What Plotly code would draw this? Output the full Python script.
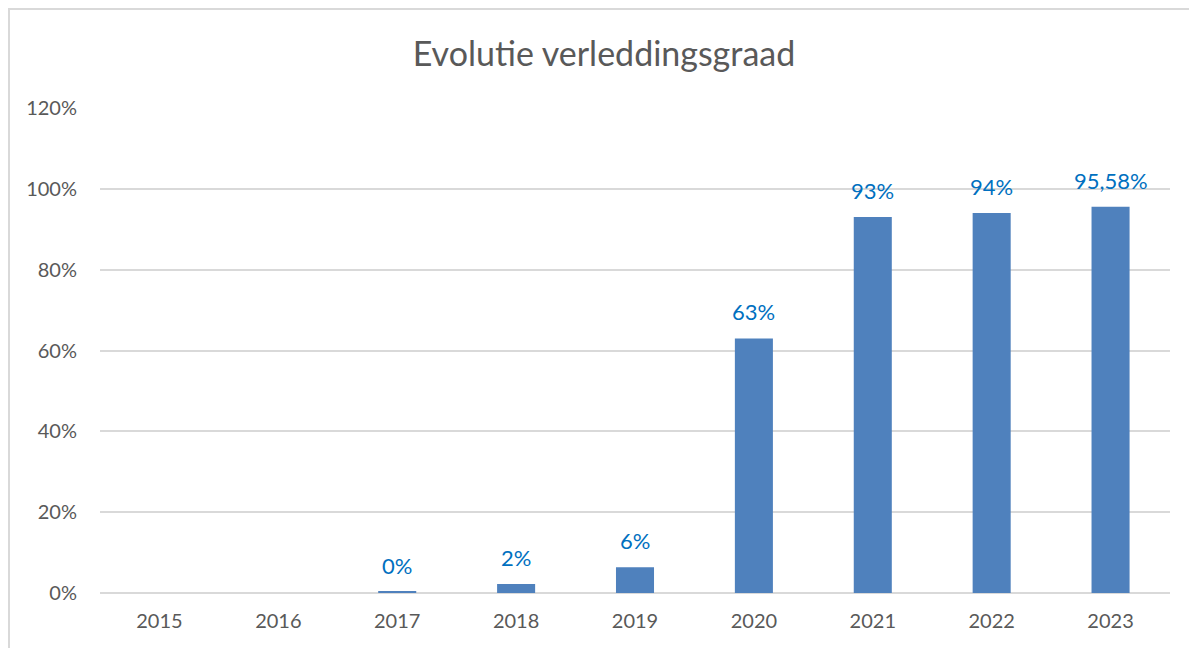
import plotly.graph_objects as go

years = ["2015", "2016", "2017", "2018", "2019", "2020", "2021", "2022", "2023"]
values = [None, None, 0.003, 0.022, 0.064, 0.63, 0.93, 0.94, 0.9558]
labels = ["", "", "0%", "2%", "6%", "63%", "93%", "94%", "95,58%"]
y_ticks = [0, 0.2, 0.4, 0.6, 0.8, 1.0, 1.2]
y_tick_labels = ["0%", "20%", "40%", "60%", "80%", "100%", "120%"]

FONT = "Lato, Carlito, Calibri, sans-serif"
GREY = "#595959"

fig = go.Figure()
fig.add_trace(go.Bar(
    x=years, y=values, marker=dict(color="#4F81BD", line=dict(width=0)),
    width=0.32, hoverinfo="x+y",
))

for i, (v, lab) in enumerate(zip(values, labels)):
    if v is None or not lab:
        continue
    fig.add_annotation(x=i, y=v, xref="x", yref="y", text=lab, showarrow=False,
                       yanchor="bottom", yshift=11,
                       font=dict(family=FONT, size=22, color="#0070C0"))

fig.update_layout(
    width=1197, height=648,
    paper_bgcolor="white", plot_bgcolor="white",
    margin=dict(l=92, r=35, t=100, b=63),
    title=dict(text="Evolutie verleddingsgraad", x=596 / 1197,
               xanchor="center", y=1 - 46 / 648, yanchor="middle",
               font=dict(family=FONT, size=34, color=GREY)),
    showlegend=False,
    xaxis=dict(type="category", categoryorder="array", categoryarray=years,
               range=[-0.5, len(years) - 0.5],
               tickfont=dict(family=FONT, size=20, color=GREY),
               showgrid=False, showline=False, ticks="", zeroline=False,
               ticklabelstandoff=14),
    yaxis=dict(range=[0, 1.2], tickvals=y_ticks, ticktext=y_tick_labels,
               tickfont=dict(family=FONT, size=20, color=GREY),
               showgrid=True, gridcolor="#D9D9D9", gridwidth=1.5,
               zeroline=True, zerolinecolor="#D9D9D9", zerolinewidth=1.5,
               showline=False, ticks="", ticklabelstandoff=22),
    shapes=[dict(type="rect", xref="paper", yref="paper",
                 x0=-91 / 1070, x1=1.1, y0=-0.3, y1=1 + 99 / 485,
                 line=dict(color="#D9D9D9", width=2), fillcolor="rgba(0,0,0,0)",
                 layer="below")],
)

fig.write_html("out.html")
